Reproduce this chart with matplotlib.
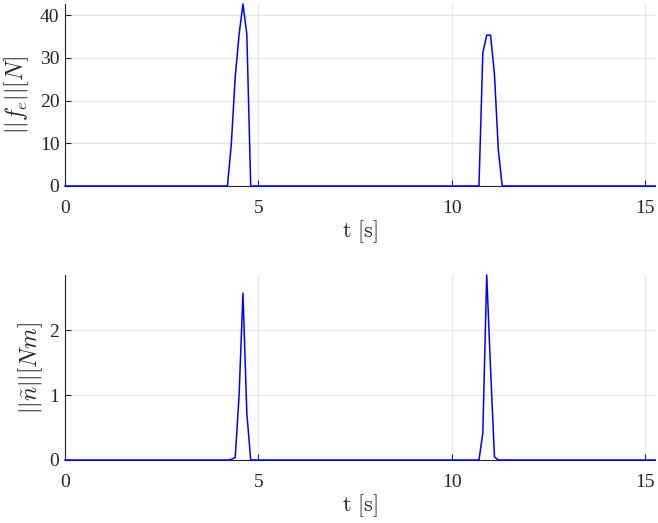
import matplotlib
matplotlib.use("Agg")
import matplotlib.pyplot as plt

# force norm samples (only where it leaves zero)
t_force = [0.0, 4.2, 4.3, 4.4, 4.5, 4.6, 4.7, 4.8,
           10.7, 10.8, 10.9, 11.0, 11.1, 11.2, 11.3, 15.25]
f_norm = [0.0, 0.0, 10.0, 25.5, 35.5, 42.6, 35.5, 0.0,
          0.0, 31.2, 35.3, 35.3, 26.2, 8.5, 0.0, 0.0]

# torque norm samples
t_torque = [0.0, 4.2, 4.3, 4.4, 4.5, 4.6, 4.7, 4.8,
            10.7, 10.8, 10.9, 11.0, 11.1, 11.2, 15.25]
n_norm = [0.0, 0.0, 0.01, 0.04, 1.0, 2.57, 0.72, 0.0,
          0.0, 0.42, 2.85, 1.4, 0.05, 0.0, 0.0]

x_ticks = [0, 5, 10, 15]
f_ticks = [0, 10, 20, 30, 40]
n_ticks = [0, 1, 2]

plt.rcParams["font.family"] = ["Liberation Serif", "DejaVu Serif"]
plt.rcParams["mathtext.fontset"] = "cm"

fig = plt.figure(figsize=(6.58, 5.23), dpi=100)
ax1 = fig.add_axes([65 / 658, 1 - 186 / 523, 590 / 658, 182 / 523])
ax2 = fig.add_axes([65 / 658, 1 - 460 / 523, 590 / 658, 185 / 523])

panels = [
    (ax1, t_force, f_norm, f_ticks, r"$||f_e||[N]$", 6),
    (ax2, t_torque, n_norm, n_ticks, r"$||\tilde{n}||[Nm]$", 3.5),
]

for ax, t, y, yt, lab, ypad in panels:
    ax.plot(t, y, color="#0000ff", lw=1.1, zorder=3, clip_on=False)
    ax.set_xlim(0, 15.25)
    ax.set_ylim(0, max(y))
    ax.set_xticks(x_ticks)
    ax.set_yticks(yt)
    ax.grid(True, color="#e6e6e6", lw=0.9)
    ax.set_axisbelow(True)
    for s in ["top", "right"]:
        ax.spines[s].set_visible(False)
    for s in ["left", "bottom"]:
        ax.spines[s].set_color("#262626")
        ax.spines[s].set_linewidth(0.8)
    ax.tick_params(direction="in", length=4, width=0.8, color="#262626",
                   labelsize=14, labelcolor="#262626")
    ax.tick_params(axis="x", pad=10)
    ax.tick_params(axis="y", pad=4)
    ax.set_xlabel(r"$\mathrm{t\ [s]}$", fontsize=16, color="#262626", labelpad=1)
    ax.set_ylabel(lab, fontsize=17, color="#262626", labelpad=ypad)

fig.savefig("out.png", dpi=100)
